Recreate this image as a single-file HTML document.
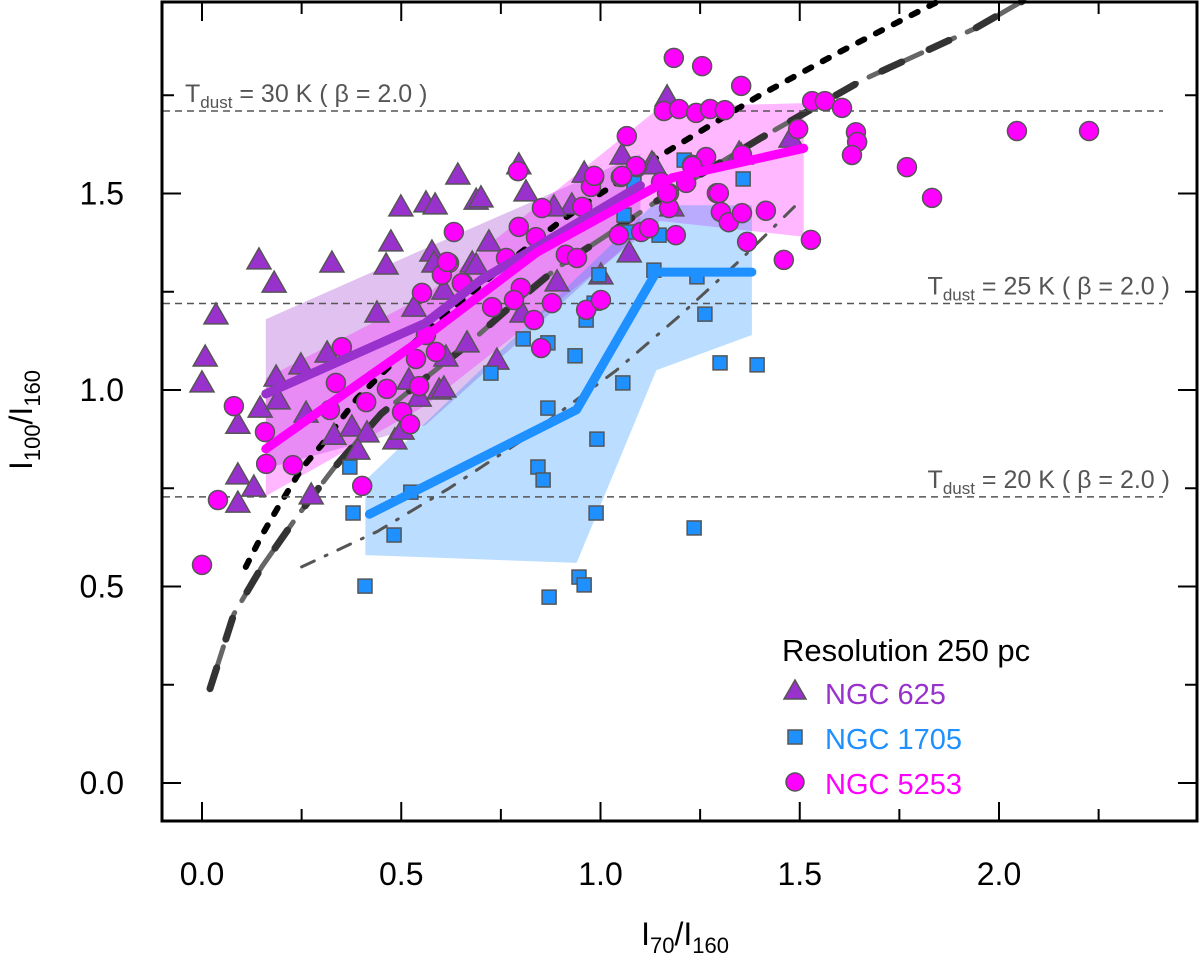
<!DOCTYPE html>
<html><head><meta charset="utf-8"><style>
body{margin:0;background:#fff;}
svg{display:block;font-family:"Liberation Sans",Arial,sans-serif;}
</style></head><body>
<svg id="chart" width="1200" height="969" viewBox="0 0 1200 969">
<g id="bands"></g><g id="curves"></g><g id="hlines"></g><g id="points"></g><g id="medians"></g>
<rect x="162" y="2" width="1035" height="819" fill="none" stroke="#000" stroke-width="3"/>
<g id="ticks"></g>
<text x="32" y="420" font-size="32" text-anchor="middle" transform="rotate(-90 32 420)">I<tspan font-size="22" dy="8">100</tspan><tspan dy="-8">/I</tspan><tspan font-size="22" dy="8">160</tspan></text>
<text x="685" y="945" font-size="32" text-anchor="middle">I<tspan font-size="22" dy="8">70</tspan><tspan dy="-8">/I</tspan><tspan font-size="22" dy="8">160</tspan></text>
<g id="legend">
<text x="782" y="661" font-size="31">Resolution 250 pc</text>
<text x="825" y="704" font-size="29" fill="#9932cc">NGC 625</text>
<text x="825" y="749" font-size="29" fill="#1e90ff">NGC 1705</text>
<text x="825" y="794" font-size="29" fill="#ff00ff">NGC 5253</text>
<polygon points="795,680 784,699 806,699" fill="#9932cc" stroke="#555" stroke-width="1.5"/>
<rect x="788" y="730" width="14" height="14" fill="#1e90ff" stroke="#555" stroke-width="1.5"/>
<circle cx="795" cy="782" r="9" fill="#ff00ff" stroke="#555" stroke-width="1.5"/>
</g>
</svg>
<script>
const tri625X=[0.143,0.181,0.326,0.035,0.008,0.0,0.090,0.090,0.130,0.090,0.146,0.186,0.191,0.248,0.314,0.261,0.331,0.376,0.414,0.391,0.274,0.484,0.502,0.439,0.532,0.499,0.562,0.585,0.642,0.474,0.462,0.577,0.582,0.607,0.665,0.612,0.519,0.545,0.595,0.678,0.688,0.700,0.813,0.720,0.688,0.891,1.072,1.054,1.129,0.959,0.928,0.883,0.803,0.740,0.607,1.001,1.179,1.348,1.167,1.134,1.478,1.353,0.795];
const tri625Y=[1.331,1.272,1.323,1.191,1.084,1.018,0.913,0.784,0.753,0.712,0.954,1.033,0.975,1.064,1.094,0.941,0.885,0.906,0.891,0.847,0.733,0.873,0.898,1.196,1.211,1.466,1.476,1.471,1.547,1.377,1.318,1.351,1.323,1.254,1.120,1.084,1.025,0.982,1.000,1.323,1.483,1.489,1.504,1.377,1.318,1.275,1.349,1.598,1.578,1.552,1.471,1.466,1.196,1.076,1.005,1.293,1.466,1.603,1.746,1.573,1.641,1.598,1.573];
const sq1705X=[0.371,0.379,0.482,0.409,0.524,0.806,0.868,0.936,0.725,1.056,0.868,0.991,0.843,0.856,0.989,0.946,0.959,0.871,1.235,1.300,1.393,1.262,0.964,0.996,1.066,1.147,1.134,1.242,1.210,1.358,1.084,1.059,0.984];
const sq1705Y=[0.804,0.687,0.631,0.501,0.740,1.130,1.120,1.087,1.043,1.018,0.954,0.875,0.804,0.771,0.687,0.524,0.504,0.473,0.649,1.069,1.064,1.193,1.178,1.293,1.402,1.394,1.305,1.288,1.585,1.537,1.527,1.445,1.221];
const circ5253X=[0.632,0.620,0.602,0.655,0.552,0.351,0.336,0.080,0.158,0.321,0.412,0.464,0.545,0.502,0.522,0.161,0.228,0.402,0.040,0.0,0.562,0.587,0.537,0.793,0.795,0.853,0.954,0.984,0.976,1.051,1.092,1.152,1.172,1.172,1.046,1.102,1.122,1.189,0.615,0.652,0.763,0.838,0.913,0.941,0.800,0.783,0.878,0.833,0.728,0.851,0.964,1.001,1.230,1.265,1.355,1.292,1.302,1.322,1.355,1.368,1.215,1.184,1.255,1.353,1.159,1.197,1.240,1.275,1.312,1.531,1.563,1.606,1.641,1.644,1.631,1.496,1.066,1.230,1.089,0.984,1.054,1.297,1.167,1.415,1.769,1.832,2.045,2.226,1.528,1.460];
const circ5253Y=[1.402,1.323,1.293,1.272,1.247,1.109,1.018,0.959,0.893,0.949,0.969,1.003,1.010,0.944,0.913,0.812,0.809,0.756,0.720,0.555,1.140,1.097,1.079,1.557,1.415,1.463,1.466,1.542,1.517,1.542,1.567,1.529,1.501,1.463,1.394,1.402,1.412,1.394,1.326,1.272,1.336,1.389,1.344,1.336,1.260,1.229,1.221,1.178,1.211,1.107,1.204,1.229,1.573,1.593,1.598,1.501,1.453,1.427,1.450,1.377,1.527,1.845,1.824,1.774,1.710,1.715,1.705,1.715,1.712,1.735,1.735,1.718,1.656,1.631,1.598,1.664,1.646,1.570,1.570,1.545,1.545,1.501,1.501,1.456,1.567,1.489,1.659,1.659,1.382,1.331];
const med625X=[0.16,0.56,0.70,1.10], med625Y=[0.99,1.17,1.28,1.52];
const med5253X=[0.16,0.56,0.84,1.18,1.51], med5253Y=[0.85,1.135,1.35,1.54,1.615];
const med1705X=[0.42,0.94,1.14,1.38], med1705Y=[0.684,0.95,1.30,1.30];
const band625X=[0.16,0.56,1.10,1.10,0.56,0.16], band625Y=[1.18,1.36,1.60,1.40,0.91,0.80];
const band5253X=[0.16,0.56,1.15,1.51,1.51,1.15,0.56,0.16], band5253Y=[1.03,1.24,1.72,1.73,1.39,1.43,0.96,0.73];
const band1705X=[0.41,1.13,1.38,1.38,1.14,0.94,0.41], band1705Y=[0.77,1.47,1.47,1.14,1.05,0.56,0.58];
const dotX=[0.11,0.15,0.19,0.25,0.30,0.39,0.51,0.62,0.75,0.90,1.0,1.14,1.40,1.60,1.85];
const dotY=[0.55,0.63,0.70,0.80,0.86,0.98,1.10,1.20,1.31,1.43,1.50,1.59,1.75,1.86,1.99];
const dashX=[0.02,0.08,0.15,0.24,0.33,0.45,0.56,0.66,0.76,0.89,1.01,1.14,1.40,1.66,1.94,2.06];
const dashY=[0.24,0.43,0.55,0.68,0.80,0.94,1.03,1.11,1.20,1.31,1.39,1.48,1.64,1.79,1.92,1.99];
const ddX=[0.25,0.44,0.62,0.80,1.04,1.20,1.35,1.50], ddY=[0.55,0.64,0.75,0.87,1.05,1.19,1.33,1.48];
const tdustY=[1.71,1.22,0.728], tdustLabel=["30","25","20"];
const xTicks=[0,0.25,0.5,0.75,1,1.25,1.5,1.75,2,2.25], xTickLabels=["0.0","","0.5","","1.0","","1.5","","2.0",""];
const yTicks=[0,0.25,0.5,0.75,1,1.25,1.5,1.75], yTickLabels=["0.0","","0.5","","1.0","","1.5",""];

const NS="http://www.w3.org/2000/svg";
const sx=v=>202+v*398.5, sy=v=>783-v*393;
function mk(tag,attrs,parent){const e=document.createElementNS(NS,tag);for(const k in attrs)e.setAttribute(k,attrs[k]);document.getElementById(parent).appendChild(e);return e;}
function pts(X,Y){return X.map((x,i)=>sx(x).toFixed(1)+","+sy(Y[i]).toFixed(1)).join(" ");}

let e;
e=mk("polygon",{points:pts(band625X,band625Y),fill:"#9932cc","fill-opacity":"0.3"},"bands");


e=mk("polygon",{points:pts(band5253X,band5253Y),fill:"#ff00ff","fill-opacity":"0.28"},"bands");


e=mk("polygon",{points:pts(band1705X,band1705Y),fill:"#1e90ff","fill-opacity":"0.3"},"bands");



e=mk("polyline",{points:pts(dashX,dashY),fill:"none",stroke:"#666","stroke-width":"5","stroke-dasharray":"22 14","stroke-dashoffset":"14","stroke-linecap":"round"},"curves");


e=mk("polyline",{points:pts(dashX,dashY),fill:"none",stroke:"#333","stroke-width":"7","stroke-dasharray":"22 30","stroke-linecap":"round"},"curves");


e=mk("polyline",{points:pts(dotX,dotY),fill:"none",stroke:"#000","stroke-width":"6","stroke-dasharray":"7 13","stroke-linecap":"round"},"curves");


e=mk("polyline",{points:pts(ddX,ddY),fill:"none",stroke:"#555","stroke-width":"3","stroke-dasharray":"14 12 2 12","stroke-linecap":"round"},"curves");



tdustY.forEach((v,i)=>{
  e=mk("line",{x1:163,x2:1163,y1:sy(v),y2:sy(v),stroke:"#555","stroke-width":"1.5","stroke-dasharray":"7 5"},"hlines");
  
  
  const t=mk("text",{y:sy(v)-9,"font-size":"25",fill:"#555"},"hlines");
  
  
  if(i===0){t.setAttribute("x",185);}else{t.setAttribute("x",1170);t.setAttribute("text-anchor","end");}
  t.innerHTML='T<tspan font-size="17" dy="6">dust</tspan><tspan dy="-6"> = '+tdustLabel[i]+' K ( β = 2.0 )</tspan>';
});

tri625X.forEach((x,i)=>{const cx=sx(x),cy=sy(tri625Y[i]);
  e=mk("polygon",{points:`${cx},${cy-12} ${cx-12},${cy+9} ${cx+12},${cy+9}`,fill:"#9932cc",stroke:"#555","stroke-width":"1.5"},"points");
  
  });
sq1705X.forEach((x,i)=>{const cx=sx(x),cy=sy(sq1705Y[i]);
  e=mk("rect",{x:cx-7,y:cy-7,width:14,height:14,fill:"#1e90ff",stroke:"#555","stroke-width":"1.5"},"points");
  
  });
circ5253X.forEach((x,i)=>{
  e=mk("circle",{cx:sx(x),cy:sy(circ5253Y[i]),r:9.5,fill:"#ff00ff",stroke:"#555","stroke-width":"1.5"},"points");
  
  });

e=mk("polyline",{points:pts(med625X,med625Y),fill:"none",stroke:"#9932cc","stroke-width":"9","stroke-linecap":"round","stroke-linejoin":"round"},"medians");


e=mk("polyline",{points:pts(med5253X,med5253Y),fill:"none",stroke:"#ff00ff","stroke-width":"9","stroke-linecap":"round","stroke-linejoin":"round"},"medians");


e=mk("polyline",{points:pts(med1705X,med1705Y),fill:"none",stroke:"#1e90ff","stroke-width":"9","stroke-linecap":"round","stroke-linejoin":"round"},"medians");



xTicks.forEach((v,i)=>{const x=sx(v);const len=xTickLabels[i]?19:12;
  e=mk("line",{x1:x,x2:x,y1:821,y2:821-len,stroke:"#000","stroke-width":"2"},"ticks");
  
  
  e=mk("line",{x1:x,x2:x,y1:2,y2:2+len,stroke:"#000","stroke-width":"2"},"ticks");
  
  
  if(xTickLabels[i]){const t=mk("text",{x:x,y:885,"font-size":"32","text-anchor":"middle"},"ticks");t.textContent=xTickLabels[i];
  
  }
});
yTicks.forEach((v,i)=>{const y=sy(v);const len=yTickLabels[i]?19:12;
  e=mk("line",{x1:162,x2:162+len,y1:y,y2:y,stroke:"#000","stroke-width":"2"},"ticks");
  
  
  e=mk("line",{x1:1197,x2:1197-len,y1:y,y2:y,stroke:"#000","stroke-width":"2"},"ticks");
  
  
  if(yTickLabels[i]){const t=mk("text",{x:124,y:y+11,"font-size":"32","text-anchor":"end"},"ticks");t.textContent=yTickLabels[i];
  
  }
});
</script>
</body></html>
